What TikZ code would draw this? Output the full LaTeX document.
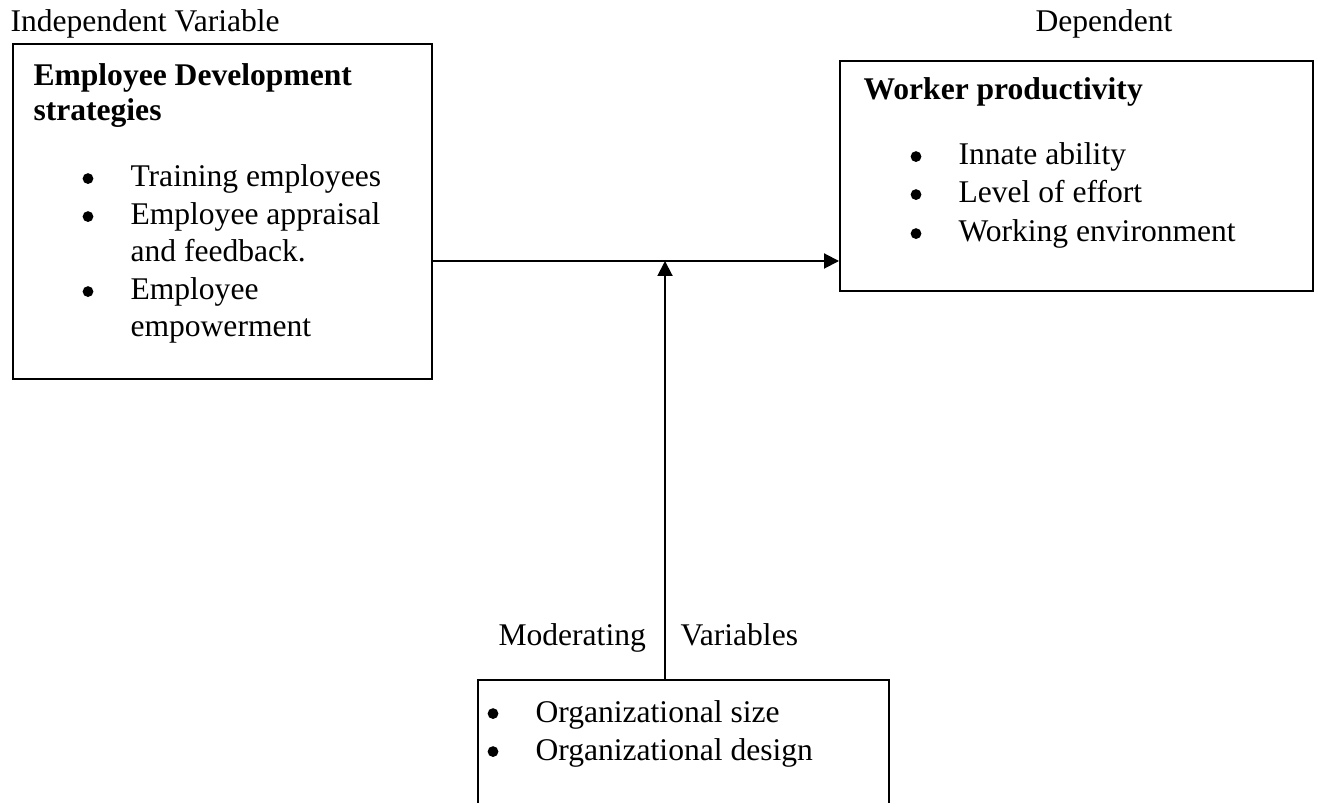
\documentclass[tikz,border=0pt]{standalone}
\usepackage{fontspec}
\setmainfont{Liberation Serif}
\usetikzlibrary{arrows.meta,fit}

\begin{document}
\fontsize{12pt}{14.25pt}\selectfont
\begin{tikzpicture}[x=0.38pt, y=-0.38pt,
  box/.style={draw, line width=0.75pt, inner sep=0pt},
  txt/.style={anchor=base west, inner sep=0pt},
  blt/.style={circle, fill, inner sep=0pt, minimum size=4.1pt, yshift=3.2pt},
  link/.style={line width=0.75pt, -{Triangle[length=5.7pt,width=5.7pt]}}]
 \useasboundingbox (0,0) rectangle (1319,803);
 \clip (0,0) rectangle (1319,803);

 % headings over the boxes
 \node (ivlabel) [txt] at (10,32) {Independent Variable};
 \node (dvlabel) [txt] at (1035,32) {Dependent};

 % independent variable
 \node (indep) [box, fit={(13,44) (432,379)}] {};
 \node (ttl1) [txt] at (33,86) {\bfseries Employee Development};
 \node (ttl2) [txt] at (33,121) {\bfseries strategies};
 \node (b1) [blt] at (88,187) {};
 \node (i1) [txt] at (130,187) {Training employees};
 \node (b2) [blt] at (88,225) {};
 \node (i2) [txt] at (130,225) {Employee appraisal};
 \node (i2b) [txt] at (130,262) {and feedback.};
 \node (b3) [blt] at (88,300) {};
 \node (i3) [txt] at (130,300) {Employee};
 \node (i3b) [txt] at (130,337) {empowerment};

 % dependent variable
 \node (dep) [box, fit={(840,61) (1313,291)}] {};
 \node (ttl3) [txt] at (863,100) {\bfseries Worker productivity};
 \node (b4) [blt] at (916,165) {};
 \node (i4) [txt] at (958,165) {Innate ability};
 \node (b5) [blt] at (916,203) {};
 \node (i5) [txt] at (958,203) {Level of effort};
 \node (b6) [blt] at (916,242) {};
 \node (i6) [txt] at (958,242) {Working environment};

 % moderating variables
 \node (mlabel1) [txt] at (498,645) {Moderating};
 \node (mlabel2) [txt] at (680,645) {Variables};
 \node (moder) [box, fit={(478,680) (889,840)}] {};
 \node (b7) [blt] at (493,722) {};
 \node (i7) [txt] at (535,722) {Organizational size};
 \node (b8) [blt] at (493,760) {};
 \node (i8) [txt] at (535,760) {Organizational design};

 % links
 \coordinate (join) at (665,261);
 \draw[link] (indep.east |- join) -- (dep.west |- join);
 \draw[link] (join |- moder.north) -- (join);
\end{tikzpicture}
\end{document}
